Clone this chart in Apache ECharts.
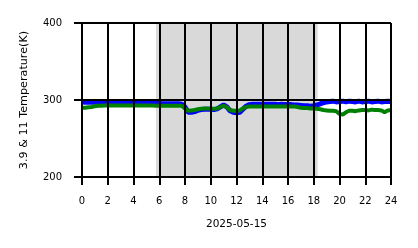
<!DOCTYPE html>
<html>
<head>
<meta charset="utf-8">
<script src="https://cdn.jsdelivr.net/npm/echarts@6/dist/echarts.min.js"></script>
<style>html,body{margin:0;padding:0;background:#fff}#c{width:418px;height:248px}</style>
</head>
<body>
<div id="c"></div>
<script>
// hours, every 0.25 h
var hours = [0,0.25,0.5,0.75,1,1.25,1.5,1.75,2,2.25,2.5,2.75,3,3.25,3.5,3.75,4,4.25,4.5,4.75,5,5.25,5.5,5.75,6,6.25,6.5,6.75,7,7.25,7.5,7.75,8,8.25,8.5,8.75,9,9.25,9.5,9.75,10,10.25,10.5,10.75,11,11.25,11.5,11.75,12,12.25,12.5,12.75,13,13.25,13.5,13.75,14,14.25,14.5,14.75,15,15.25,15.5,15.75,16,16.25,16.5,16.75,17,17.25,17.5,17.75,18,18.25,18.5,18.75,19,19.25,19.5,19.75,20,20.25,20.5,20.75,21,21.25,21.5,21.75,22,22.25,22.5,22.75,23,23.25,23.5,23.75,24];
var temp39 = [297.5,297,297.5,297,297.5,297,297.5,297,297,297.5,297,297,297,296.5,296.5,296.5,296.5,296,296,296,296,296,295.5,295.5,295.5,295,295,295,295,295,295,294.5,291,284,284,285,286.5,287.5,288,288,288,287.5,288.5,291,293.5,291,286,284,283.5,284,288,292,294,294.5,294.5,294.5,294.5,294.5,294.5,294.5,294.5,294,294.5,294,294,294,293.5,293.5,293,292.5,292.5,292,292.5,293.5,295,296.5,297.5,298,298.5,297.5,298,298.5,297.5,298.5,298,297.5,298.5,297.5,298,298.5,297.5,298,298.5,297.5,298,298.5,298];
var temp11 = [290,290,290.5,291,292,292.5,292.5,293,293,293,293,293,293,293,293,293,293,293,293,293,293,293,293,292.5,292.5,292.5,292.5,292.5,292.5,292.5,292.5,292.5,289,286,286.5,287,288,288.5,289,289,288.5,288.5,289,291,292.5,290.5,287,286,286,286.5,289,291,291.5,291.5,291.5,291.5,291.5,291.5,291.5,291.5,291.5,291.5,291.5,291.5,291.5,291.5,291.5,291,290,289.5,289.5,289,289,288.5,288,287,286.5,286,286,285.5,282,281,284,286,286,285.5,286.5,287,287,286.5,287.5,287,287,286.5,284,286.5,287];
var nightShade = [5.75, 18.3];
var xTicks = [0,24,2];
var yTicks = [200,400,100];
var xName = '2025-05-15';
var yName = '3.9 & 11 Temperature(K)';

function pairs(xs, ys){ return xs.map(function(x,i){ return [x, ys[i]]; }); }

var font = 'DejaVu Sans';
var chart = echarts.init(document.getElementById('c'), null, {renderer:'canvas'});
chart.setOption({
  animation:false,
  backgroundColor:'#fff',
  grid:{left:82, right:27, top:23, bottom:71},
  xAxis:{
    type:'value', min:xTicks[0], max:xTicks[1], interval:xTicks[2], z:10,
    name:xName, nameLocation:'middle', nameGap:42,
    nameTextStyle:{fontFamily:font, fontSize:10.5, color:'#000'},
    axisLine:{show:true, lineStyle:{color:'#000', width:2}},
    axisTick:{show:true, length:8, lineStyle:{color:'#000', width:2}},
    axisLabel:{fontFamily:font, fontSize:10, color:'#000', margin:19},
    splitLine:{show:true, lineStyle:{color:'#000', width:2}}
  },
  yAxis:{
    type:'value', min:yTicks[0], max:yTicks[1], interval:yTicks[2], z:10,
    name:yName, nameLocation:'middle', nameGap:52,
    nameTextStyle:{fontFamily:font, fontSize:11.2, color:'#000'},
    axisLine:{show:true, lineStyle:{color:'#000', width:2}},
    axisTick:{show:true, length:8, lineStyle:{color:'#000', width:2}},
    axisLabel:{fontFamily:font, fontSize:10, color:'#000', margin:20},
    splitLine:{show:true, lineStyle:{color:'#000', width:2}}
  },
  series:[
    {type:'line', name:'3.9', data:pairs(hours,temp39), showSymbol:false, z:3,
     lineStyle:{color:'#0000ff', width:5}, itemStyle:{color:'#0000ff'},
     markArea:{silent:true, itemStyle:{color:'#d9d9d9'}, data:[[{xAxis:nightShade[0]},{xAxis:nightShade[1]}]]}},
    {type:'line', name:'11', data:pairs(hours,temp11), showSymbol:false, z:4,
     lineStyle:{color:'#008000', width:4}, itemStyle:{color:'#008000'}}
  ]
});
</script>
</body>
</html>
